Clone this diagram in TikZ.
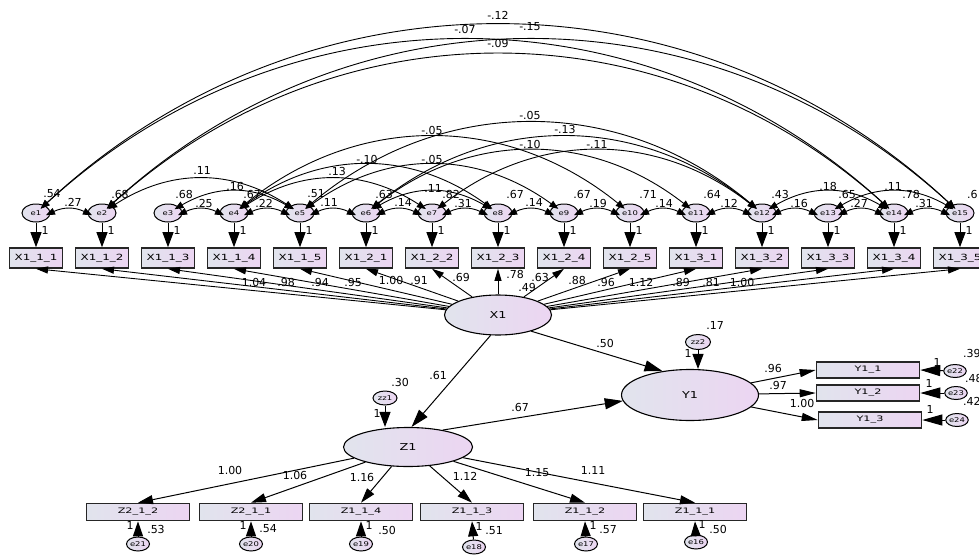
\documentclass[tikz,border=0pt]{standalone}
\usepackage{fontspec}
\setmainfont{DejaVu Sans}
\usepackage{graphicx}
\usetikzlibrary{arrows.meta,shapes.geometric}
\definecolor{cl}{RGB}{225,228,237}
\definecolor{cr}{RGB}{236,213,242}
\newcommand\bxt[1]{\scalebox{1.4}[1]{\fontsize{8.5}{10}\selectfont #1}}
\newcommand\sbt[1]{\scalebox{1.5}[1]{\fontsize{7.5}{9}\selectfont #1}}
\newcommand\ltx[1]{\scalebox{1.35}[1]{\fontsize{9.5}{11}\selectfont #1}}
\newcommand\etx[1]{\scalebox{1.3}[1]{\fontsize{6.5}{7}\selectfont #1}}
\begin{document}
\begin{tikzpicture}[x=1pt,y=-1pt,
 obs/.style={rectangle,draw=black!85,line width=1.6pt,left color=cl,right color=cr,inner sep=0pt,minimum width=53pt,minimum height=20pt},
 obsw/.style={obs,minimum width=103pt,minimum height=16pt},
 err/.style={ellipse,draw=black,line width=1pt,left color=cl,right color=cr,inner sep=0pt,minimum width=28pt,minimum height=18pt},
 errs/.style={err,minimum width=23pt,minimum height=14pt},
 lat/.style={ellipse,draw=black,line width=1.1pt,left color=cl,right color=cr,inner sep=0pt},
 num/.style={inner sep=0pt,font=\fontsize{11}{13}\selectfont},
 cov/.style={line width=0.9pt,{Triangle[length=9pt,width=7pt]}-{Triangle[length=9pt,width=7pt]},shorten <=-5pt,shorten >=-5pt},
 ld/.style={line width=0.9pt,-{Triangle[length=12pt,width=7pt]}},
 big/.style={line width=1pt,-{Triangle[length=15pt,width=11pt]}},
 big2/.style={line width=1pt,-{Triangle[length=18pt,width=11pt]}},
 yl/.style={line width=1pt,-{Triangle[length=16pt,width=8pt]}},
 yer/.style={line width=1pt,-{Triangle[length=20pt,width=11pt]}},
 zl/.style={line width=1pt,-{Triangle[length=15pt,width=9pt]}},
 zer/.style={line width=1pt,-{Triangle[length=15pt,width=10pt]}}
 ]
\useasboundingbox (0,0) rectangle (979,557);
\clip (0,0) rectangle (979,557);
\fill[white] (0,0) rectangle (979,557);

% top indicators and errors
\foreach \a/\b [count=\k] in {1/1,1/2,1/3,1/4,1/5,2/1,2/2,2/3,2/4,2/5,3/1,3/2,3/3,3/4,3/5} {
  \pgfmathsetmacro\xx{36+66*(\k-1)}
  \node[obs] (b\k) at (\xx,258) {\bxt{X1\_\a\_\b}};
  \node[err] (e\k) at (\xx,213) {\etx{e\k}};
  \draw[big] (e\k) -- (b\k);
  \node[num] (o\k) at (\xx+9,230) {1};
}

% covariances
\foreach \a/\b in {1/2,3/4,4/5,5/6,6/7,7/8,8/9,9/10,10/11,11/12,12/13,13/14,14/15}
  \draw[cov] (e\a.east) to[bend left=25] (e\b.west);
\foreach \a/\b/\g in {3/5/30,6/8/30,12/14/30,13/15/30,2/5/33,4/7/33,4/8/36,5/9/36,6/11/38,7/12/38,4/10/39,6/12/39,5/12/40,2/14/42,1/14/42.5,2/15/42.5,1/15/43}
  \draw[cov] (e\a) to[bend left=\g] (e\b);

% variance labels top
\foreach \lbl/\px [count=\k] in {.54/52,.68/120,.68/184,.67/252,.51/316,.63/384,.82/451,.67/515,.67/582,.71/648,.64/712,.43/780,.65/847,.78/911}
  \node[num] (v\k) at (\px,194) {\lbl};
\node[num,anchor=west] (v15) at (967,194) {.6};

% covariance labels
\foreach \lbl/\px/\py [count=\k] in {.27/73/202,.25/204/203,.22/264/203,.11/329/202,.14/403/202,.31/463/203,.14/534/202,.19/598/203,.14/664/203,.12/729/203,.16/799/203,.27/859/203,.31/924/203,.16/235/186,.11/433/188,.18/828/186,.11/893/186,.11/202/170,.13/337/171,-.10/367/159,-.05/432/159,-.10/530/144,-.11/597/144,-.05/432/130,-.13/565/129,-.05/530/115,-.07/465/29,-.12/498/15,-.15/530/27,-.09/498/43}
  \node[num] (c\k) at (\px,\py) {\lbl};

% X1
\node[lat,minimum width=107pt,minimum height=40pt] (X1) at (498,315) {\ltx{X1}};
\foreach \k in {1,...,15} \draw[ld] (X1) -- (b\k.south);
\foreach \lbl/\px/\py [count=\k] in {1.04/254/282,.98/286/282,.94/320/282,.95/353/282,1.00/391/280,.91/419/280,.69/461/277,.78/515/274,.63/540/277,.88/577/280,.96/606/282,1.12/641/282,.89/681/282,.81/711/282,1.00/742/282}
  \node[num] (w\k) at (\px,\py) {\lbl};
\node[num] (xv) at (527,287) {.49};

% Y1
\node[lat,minimum width=137pt,minimum height=51pt] (Y1) at (690,395) {\ltx{Y1}};
\node[errs,minimum width=25pt,minimum height=15pt] (zz2) at (698,342) {\etx{zz2}};
\draw[big] (zz2) -- (zz2 |- Y1.north);
\node[num] (zz2v) at (715,325) {.17};
\node[num] (zz2o) at (688,353) {1};
\node[obsw] (y1) at (868,370) {\sbt{Y1\_1}};
\node[obsw] (y2) at (868,393) {\sbt{Y1\_2}};
\node[obsw] (y3) at (870,420) {\sbt{Y1\_3}};
\draw[yl] (Y1) -- (y1.west);
\draw[yl] (Y1) -- (y2.west);
\draw[yl] (Y1) -- (y3.west);
\node[num] (yw1) at (773,368) {.96};
\node[num] (yw2) at (778,385) {.97};
\node[num] (yw3) at (802,403) {1.00};
\node[errs,minimum width=22pt,minimum height=13pt] (e22) at (955,371) {\etx{e22}};
\node[errs,minimum width=22pt,minimum height=13pt] (e23) at (956,393) {\etx{e23}};
\node[errs,minimum width=22pt,minimum height=13pt] (e24) at (957,420) {\etx{e24}};
\draw[yer] (e22) -- (y1.east);
\draw[yer] (e23) -- (y2.east);
\draw[yer] (e24) -- (y3.east);
\node[num] (yo1) at (937,362) {1};
\node[num] (yo2) at (929,383) {1};
\node[num] (yo3) at (930,409) {1};
\node[num,anchor=west] (yv1) at (963,353) {.39};
\node[num,anchor=west] (yv2) at (965,378) {.48};
\node[num,anchor=west] (yv3) at (963,401) {.42};
\draw[big2] (X1.-26) -- (Y1.139);
\node[num] (p1) at (605,343) {.50};

% Z1
\node[lat,minimum width=129pt,minimum height=39pt] (Z1) at (408,447) {\ltx{Z1}};
\node[errs,minimum width=24pt,minimum height=14pt] (zz1) at (385,398) {\etx{zz1}};
\draw[big] (zz1) -- (zz1 |- Z1.north);
\node[num] (zz1v) at (400,382) {.30};
\node[num] (zz1o) at (377,413) {1};
\draw[big2] (X1.-110) -- (Z1.80);
\node[num] (p2) at (438,375) {.61};
\draw[big2] (Z1.26) -- (Y1.185);
\node[num] (p3) at (520,407) {.67};

\foreach \lbl/\px [count=\k] in {Z2\_1\_2/138,Z2\_1\_1/251,Z1\_1\_4/361,Z1\_1\_3/472,Z1\_1\_2/585,Z1\_1\_1/695} {
  \node[obsw,minimum height=17pt] (z\k) at (\px,512) {\sbt{\lbl}};
  \draw[zl] (Z1) -- (z\k.north);
}
\foreach \nm/\px/\py [count=\k] in {e21/138/544,e20/251/544,e19/361/544,e18/474/547,e17/586/544,e16/696/542} {
  \node[errs] (\nm) at (\px,\py) {\etx{\nm}};
  \draw[zer] (\nm) -- (z\k.south);
}
\foreach \lbl/\px/\py [count=\k] in {1.00/230/470,1.06/295/475,1.16/362/477,1.12/465/476,1.15/537/473,1.11/593/470}
  \node[num] (zw\k) at (\px,\py) {\lbl};
\foreach \px/\py [count=\k] in {130/525,243/525,369/525,479/526,593/525,702/524}
  \node[num] (zo\k) at (\px,\py) {1};
\foreach \lbl/\px/\py [count=\k] in {.53/156/529,.54/268/529,.50/387/530,.51/494/531,.57/608/530,.50/718/529}
  \node[num] (zv\k) at (\px,\py) {\lbl};
\end{tikzpicture}
\end{document}
